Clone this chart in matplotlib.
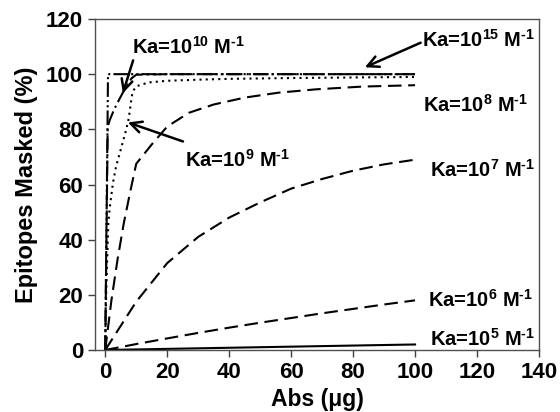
import matplotlib
matplotlib.use("Agg")
import matplotlib.pyplot as plt

plt.rcParams['font.family'] = ['Liberation Sans', 'DejaVu Sans']
plt.rcParams['font.weight'] = 'bold'
plt.rcParams['mathtext.fontset'] = 'custom'
plt.rcParams['mathtext.rm'] = 'Liberation Sans:bold'
plt.rcParams['mathtext.it'] = 'Liberation Sans:bold'
plt.rcParams['mathtext.bf'] = 'Liberation Sans:bold'
plt.rcParams['mathtext.sf'] = 'Liberation Sans:bold'

# ---- data ----
ka15_x = [0, 0.9, 10, 20, 40, 60, 80, 100]
ka15_y = [0, 100, 100, 100, 100, 100, 100, 100]

ka10_x = [0, 0.8, 1.5, 3, 4.6, 6.5, 8.5, 10, 20, 40, 60, 80, 100]
ka10_y = [0, 81, 83.5, 87.5, 91, 95, 98.5, 99.8, 100, 100, 100, 100, 100]

ka9_x = [0, 0.3, 1, 1.5, 2.5, 3.5, 4.6, 5.7, 6.8, 7.6, 8.2, 8.8, 10, 14, 20, 30, 40, 60, 80, 100]
ka9_y = [0, 20, 46, 52, 60.6, 66.5, 71, 75.5, 80, 84, 89, 93.5, 95.6, 97, 97.6, 98, 98.3, 98.6, 98.8, 99]

ka8_x = [0, 2, 4, 6, 8, 10, 15, 20, 27, 35, 45, 56, 68, 83, 100]
ka8_y = [0, 18, 33, 46, 57, 67.5, 74.5, 81, 86, 89, 91.5, 93.3, 94.5, 95.5, 96]

ka7_x = [0, 10, 20, 30, 40, 50, 60, 70, 80, 90, 100]
ka7_y = [0, 17.5, 31.5, 41, 48, 53.5, 58.5, 62, 65, 67.3, 69]

ka6_x = [0, 10, 20, 30, 40, 50, 60, 70, 80, 90, 100]
ka6_y = [0, 2.15, 4.2, 6.2, 8.1, 9.9, 11.6, 13.3, 14.9, 16.5, 18.0]

ka5_x = [0, 10, 20, 30, 40, 50, 60, 70, 80, 90, 100]
ka5_y = [0, 0.2, 0.41, 0.61, 0.81, 1.01, 1.21, 1.41, 1.61, 1.81, 2.0]

x_ticks = [0, 20, 40, 60, 80, 100, 120, 140]
y_ticks = [0, 20, 40, 60, 80, 100, 120]

HY = '\u2010'  # hyphen used in the exponent "-1"
labels = {
    'ka15': r'Ka=10$^{15}$ M$^{' + HY + '1}$',
    'ka10': r'Ka=10$^{10}$ M$^{' + HY + '1}$',
    'ka9': r'Ka=10$^{9}$ M$^{' + HY + '1}$',
    'ka8': r'Ka=10$^{8}$ M$^{' + HY + '1}$',
    'ka7': r'Ka=10$^{7}$ M$^{' + HY + '1}$',
    'ka6': r'Ka=10$^{6}$ M$^{' + HY + '1}$',
    'ka5': r'Ka=10$^{5}$ M$^{' + HY + '1}$',
}

fig = plt.figure(figsize=(5.6, 4.12), dpi=100)
ax = fig.add_axes([95/560, 62/412, 444/560, 331/412])

lw = 1.5
ax.plot(ka15_x, ka15_y, color='black', lw=lw, dashes=(7, 1.5, 1, 1.5, 1, 1.5))
ax.plot(ka10_x, ka10_y, color='black', lw=lw, dashes=(7, 2, 1, 2))
ax.plot(ka9_x, ka9_y, color='black', lw=lw, dashes=(1, 2))
ax.plot(ka8_x, ka8_y, color='black', lw=lw, dashes=(6.5, 3.2))
ax.plot(ka7_x, ka7_y, color='black', lw=lw, dashes=(6.5, 3.2))
ax.plot(ka6_x, ka6_y, color='black', lw=lw, dashes=(6.5, 3.2))
ax.plot(ka5_x, ka5_y, color='black', lw=lw)

ax.set_xlim(-3.3, 140)
ax.set_ylim(0, 120)
ax.set_xticks(x_ticks)
ax.set_yticks(y_ticks)
ax.tick_params(axis='both', direction='out', length=5, width=1, labelsize=16,
               colors='#404040', labelcolor='black', top=False, right=False)
for lab in ax.get_xticklabels() + ax.get_yticklabels():
    lab.set_fontweight('bold')
for s in ax.spines.values():
    s.set_color('#505050')
    s.set_linewidth(1)

ax.set_xlabel('Abs (\u03bcg)', fontsize=16.5, fontweight='bold', labelpad=4)
ax.set_ylabel('Epitopes Masked (%)', fontsize=17, fontweight='bold', labelpad=6)

fs = 14.5
akw = dict(arrowstyle='->', color='black', lw=1.8, mutation_scale=20, shrinkA=0, shrinkB=0)

ax.text(8.6, 107.3, labels['ka10'], fontsize=fs, fontweight='bold', va='baseline', ha='left')
ax.annotate('', xy=(5.7, 93.1), xytext=(9.0, 105.0), arrowprops=akw)

ax.text(102.1, 109.8, labels['ka15'], fontsize=fs, fontweight='bold', va='baseline', ha='left',
        clip_on=False)
ax.annotate('', xy=(83.8, 102.5), xytext=(101.8, 111.4), arrowprops=akw)

ax.text(25.7, 66.5, labels['ka9'], fontsize=fs, fontweight='bold', va='baseline', ha='left')
ax.annotate('', xy=(7.3, 82.5), xytext=(25.1, 75.6), arrowprops=akw)

ax.text(102.5, 86.2, labels['ka8'], fontsize=fs, fontweight='bold', va='baseline', ha='left')
ax.text(104.7, 62.9, labels['ka7'], fontsize=fs, fontweight='bold', va='baseline', ha='left')
ax.text(104.1, 15.6, labels['ka6'], fontsize=fs, fontweight='bold', va='baseline', ha='left')
ax.text(104.7, 1.5, labels['ka5'], fontsize=fs, fontweight='bold', va='baseline', ha='left')

fig.savefig('out.png', dpi=100)
